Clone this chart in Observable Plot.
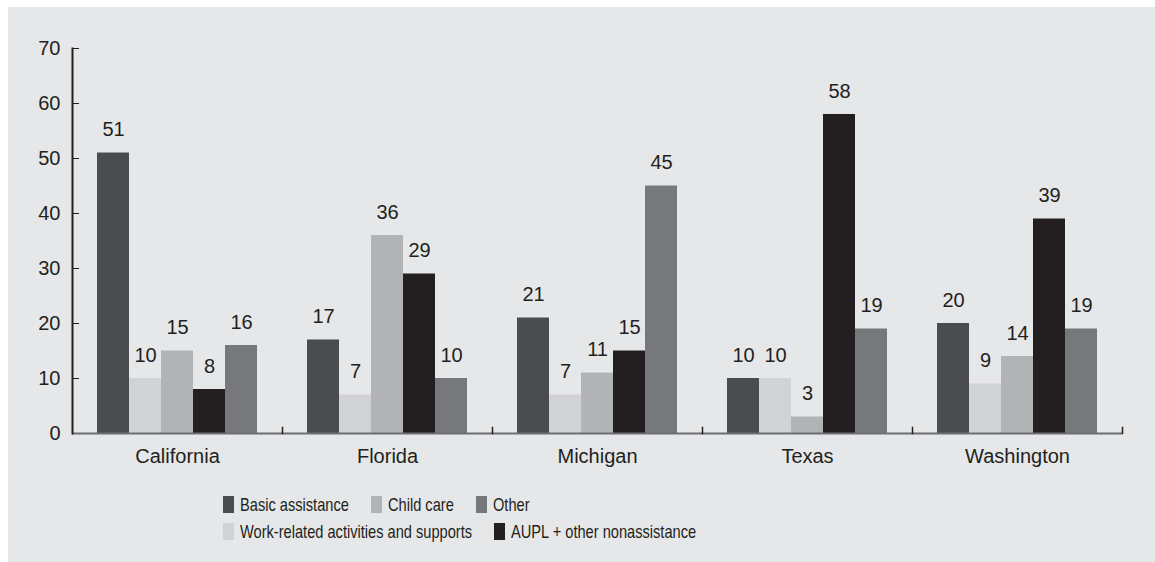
<!DOCTYPE html>
<html>
<head>
<meta charset="utf-8">
<script src="https://cdn.jsdelivr.net/npm/d3@7"></script>
<script src="https://cdn.jsdelivr.net/npm/@observablehq/plot@0.6"></script>
<style>
  html, body { margin: 0; padding: 0; background: #ffffff; }
  #panel {
    position: absolute; left: 8px; top: 7px; width: 1147px; height: 555px;
    background: #e6e7e8; font-family: "Liberation Sans", Arial, Helvetica, sans-serif; color: #231f20;
  }
  #legend { margin-left: 215px; margin-top: 14px; font-family: "Liberation Sans", Arial, sans-serif; font-size: 18.5px; }
  .row { display: flex; align-items: center; height: 17px; margin-bottom: 10px; white-space: nowrap; }
  .item { display: flex; align-items: center; margin-right: 22px; }
  .sw { width: 11px; height: 17px; margin-right: 6px; flex: none; }
  .lbl { display: inline-block; transform: scaleX(0.79); transform-origin: 0 50%; }
</style>
</head>
<body>
<div id="panel">
  <div id="chart"></div>
  <div id="legend"></div>
</div>
<script>
const states = ["California", "Florida", "Michigan", "Texas", "Washington"];
const series = ["Basic assistance", "Work-related activities and supports", "Child care", "AUPL + other nonassistance", "Other"];
const colors = ["#4b4c4e", "#d1d2d4", "#b2b3b5", "#231f20", "#77787b"];
const basicAssistance = [51, 17, 21, 10, 20];
const workRelated = [10, 7, 7, 10, 9];
const childCare = [15, 36, 11, 3, 14];
const aupl = [8, 29, 15, 58, 39];
const other = [16, 10, 45, 19, 19];
const yTicks = [0, 10, 20, 30, 40, 50, 60, 70];
const legendRows = [
  ["Basic assistance", "Child care", "Other"],
  ["Work-related activities and supports", "AUPL + other nonassistance"]
];

const valuesBySeries = [basicAssistance, workRelated, childCare, aupl, other];
const data = [];
states.forEach((s, i) => {
  series.forEach((k, j) => {
    data.push({state: s, series: k, value: valuesBySeries[j][i]});
  });
});

const chart = Plot.plot({
  width: 1147,
  height: 475,
  marginLeft: 62,
  marginRight: 32,
  marginTop: 41,
  marginBottom: 49,
  style: {background: "transparent", fontFamily: "'Liberation Sans', Arial, Helvetica, sans-serif", fontSize: "20px", color: "#231f20"},
  fx: {domain: states, padding: 0, label: null},
  x: {domain: series, paddingInner: 0, paddingOuter: 0.73, axis: null},
  y: {domain: [0, 70], label: null},
  color: {domain: series, range: colors},
  marks: [
    Plot.axisFx({anchor: "bottom", tickSize: 0, tickPadding: 15, label: null, fontSize: 20}),
    Plot.axisY(yTicks, {tickSize: -7, tickPadding: 19, label: null, fontSize: 20, stroke: "#231f20"}),
    Plot.barY(data, {fx: "state", x: "series", y: "value", fill: "series"}),
    Plot.ruleY([0], {stroke: "#6d6e71", strokeWidth: 2}),
    Plot.frame({anchor: "left", facetAnchor: "left", stroke: "#231f20", strokeWidth: 2}),
    Plot.frame({anchor: "right", insetTop: 379, stroke: "#231f20", strokeWidth: 1.5}),
    Plot.text(data, {fx: "state", x: "series", y: "value", text: d => String(d.value), dy: -23, fontSize: 20, fill: "#231f20"})
  ]
});
document.getElementById("chart").appendChild(chart);

const legend = document.getElementById("legend");
legendRows.forEach(row => {
  const r = document.createElement("div");
  r.className = "row";
  row.forEach(name => {
    const it = document.createElement("div");
    it.className = "item";
    const sw = document.createElement("div");
    sw.className = "sw";
    sw.style.background = colors[series.indexOf(name)];
    const t = document.createElement("span");
    t.className = "lbl";
    t.textContent = name;
    it.appendChild(sw);
    it.appendChild(t);
    r.appendChild(it);
  });
  legend.appendChild(r);
});
// compensate the horizontal squeeze of the legend labels in the flow layout
document.querySelectorAll("#legend .lbl").forEach(t => {
  const w = t.offsetWidth;
  t.style.marginRight = (-(1 - 0.79) * w) + "px";
});
</script>
</body>
</html>
